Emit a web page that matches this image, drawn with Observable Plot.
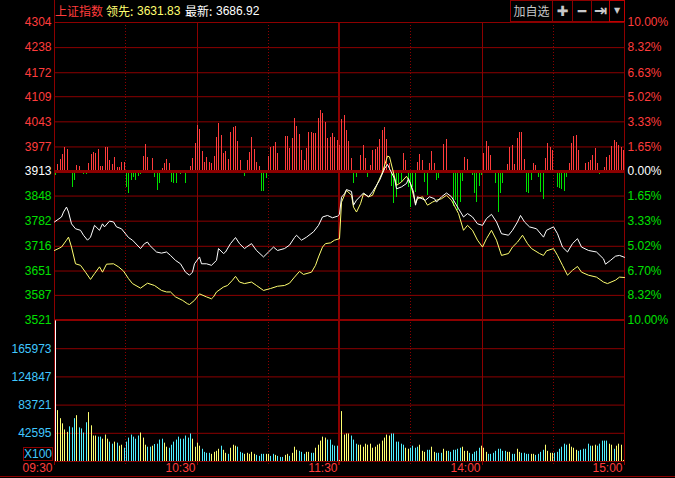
<!DOCTYPE html>
<html>
<head>
<meta charset="utf-8">
<script src="https://cdn.jsdelivr.net/npm/d3@7"></script>
<script src="https://cdn.jsdelivr.net/npm/@observablehq/plot@0.6"></script>
<style>
  html, body { margin: 0; padding: 0; background: #000; }
  #chart { position: relative; width: 675px; height: 478px; background: #000; overflow: hidden;
           font-family: "Liberation Sans", Arial, "Noto Sans CJK SC", sans-serif; font-size: 12px; }
  #chart svg { position: absolute; left: 0; top: 0; max-width: none; }
  .abs { position: absolute; white-space: nowrap; line-height: 14px; }
  .btn { position: absolute; top: 0; height: 22px; border: 1px solid #8c0000; box-sizing: border-box;
         color: #c8c8c8; text-align: center; line-height: 20px; font-family: "DejaVu Sans", "Noto Sans CJK SC", sans-serif; }
</style>
</head>
<body>
<div id="chart"></div>
<script>
// ---------- data ----------
const indexName = "上证指数";
const leadLabel = "领先:";
const leadValue = "3631.83";
const lastLabel = "最新:";
const lastValue = "3686.92";
const prevClose = 3913;

const priceTicks = [4304, 4238, 4172, 4109, 4043, 3977, 3913, 3848, 3782, 3716, 3651, 3587, 3521];
const pctLabels = ["10.00%", "8.32%", "6.63%", "5.02%", "3.33%", "1.65%", "0.00%", "1.65%", "3.33%", "5.02%", "6.70%", "8.32%", "10.00%"];
const volTicks = [42595, 83721, 124847, 165973];
const volUnit = "X100";
const timeTicks = [0, 60, 120, 180, 240];
const timeLabels = ["09:30", "10:30", "11:30", "14:00", "15:00"];
const solidMinutes = [60, 120, 180];
const dottedMinutes = [30, 90, 150, 210];

// latest index (white) : [minute, price]
const latestPts = [[0,3780],[3,3793],[4,3806],[5,3819],[6,3806],[7,3775],[9,3762],[11,3758],[12,3745],[14,3732],[15,3740],[17,3771],[19,3758],[20,3775],[21,3767],[23,3782],[25,3780],[26,3767],[28,3762],[31,3739],[33,3732],[36,3710],[38,3723],[39,3727],[40,3719],[43,3701],[45,3698],[47,3701],[49,3692],[51,3679],[53,3670],[55,3648],[57,3640],[58,3648],[59,3670],[61,3688],[62,3670],[64,3670],[66,3666],[68,3679],[69,3710],[71,3697],[72,3701],[74,3723],[76,3739],[78,3723],[80,3710],[81,3714],[83,3723],[85,3705],[88,3688],[90,3701],[92,3714],[94,3705],[97,3710],[99,3719],[101,3739],[102,3745],[104,3732],[106,3740],[109,3754],[111,3771],[113,3793],[115,3797],[117,3791],[119,3795],[120,3800],[121,3845],[122,3854],[123,3865],[125,3860],[126,3824],[127,3837],[130,3856],[132,3846],[134,3859],[137,3889],[139,3920],[140,3931],[141,3920],[143,3894],[144,3867],[146,3872],[148,3881],[149,3894],[151,3859],[152,3824],[153,3846],[156,3837],[158,3846],[160,3841],[161,3832],[163,3846],[165,3856],[167,3846],[170,3815],[172,3793],[174,3802],[176,3793],[178,3775],[180,3771],[182,3789],[184,3800],[186,3780],[188,3749],[191,3745],[193,3758],[195,3780],[196,3797],[198,3780],[200,3767],[203,3762],[206,3740],[207,3758],[210,3767],[212,3749],[214,3714],[216,3701],[218,3723],[220,3736],[222,3714],[225,3705],[228,3701],[231,3683],[232,3669],[234,3679],[236,3690],[238,3692],[240,3687]];

// leading index (yellow) : [minute, price]
const leadingPts = [[0,3705],[3,3714],[5,3732],[6,3740],[7,3714],[9,3670],[11,3666],[13,3648],[15,3629],[17,3644],[19,3662],[20,3648],[22,3669],[25,3670],[27,3662],[29,3651],[31,3631],[33,3618],[36,3606],[39,3619],[42,3613],[45,3600],[47,3596],[49,3596],[51,3583],[54,3574],[56,3565],[57,3563],[59,3574],[61,3591],[64,3583],[66,3578],[67,3583],[68,3596],[71,3609],[73,3613],[75,3627],[76,3637],[78,3622],[80,3618],[83,3622],[85,3613],[88,3600],[91,3605],[94,3611],[97,3613],[99,3619],[101,3635],[103,3650],[105,3642],[108,3648],[110,3666],[111,3688],[113,3714],[114,3723],[116,3725],[118,3732],[120,3736],[121,3832],[123,3863],[125,3850],[126,3819],[127,3806],[129,3828],[130,3854],[132,3846],[134,3850],[136,3881],[138,3911],[140,3953],[141,3951],[143,3898],[144,3876],[146,3885],[148,3900],[150,3881],[152,3828],[153,3841],[155,3846],[157,3824],[159,3832],[161,3837],[163,3841],[165,3850],[167,3837],[170,3802],[172,3758],[174,3771],[176,3758],[178,3732],[180,3714],[182,3736],[184,3758],[186,3732],[188,3692],[191,3697],[193,3714],[195,3727],[197,3745],[199,3723],[201,3710],[204,3697],[206,3692],[207,3704],[210,3710],[212,3692],[214,3666],[216,3640],[218,3653],[220,3663],[222,3648],[225,3640],[228,3635],[231,3622],[233,3618],[236,3627],[238,3635],[240,3634]];

// buying / selling strength per minute (red up, green down), arbitrary units
const flow = [
  -4,
  7, 12, 17, 24, 22, -2, -16, -9, 6, 5,
  -1, -3, -3, 8, 17, 19, 18, 22, 5, 5,
  24, 24, 11, 7, 14, 4, 4, 9, 9, -16,
  -22, -9, -6, -9, -5, -3, 15, 27, 14, -2,
  13, -6, -19, -12, 3, 8, 12, 8, -11, -12,
  -12, -2, -3, -1, -12, -2, 5, 13, 28, 46,
  42, 20, 9, 14, 9, 8, 15, 34, 48, 36,
  18, 20, 12, 39, 44, 45, 30, 11, 0, -5,
  11, 19, 34, 22, 9, 5, -20, -20, -7, 15,
  24, 25, 29, 18, 0, -2, 35, 35, 23, 33,
  53, 45, 37, 21, 11, 23, 39, 39, 38, 38,
  53, 61, 58, 49, 33, 34, 38, 34, 31, 26,
  52, 56, 41, 30, 13, -12, -6, 0, 16, 26,
  13, -6, 6, 21, 22, 24, 32, 41, 44, 32,
  8, -15, -32, -26, -12, -11, 18, 11, -16, -36,
  -16, -21, 9, 17, 11, -11, -24, 8, 20, 8,
  -9, -7, -1, 27, 32, 0, 0, -35, -29, -39,
  -31, -10, 14, 12, 0, -4, -22, -31, -15, -4,
  18, 30, 25, 16, 0, -12, -41, -22, -12, 0,
  7, 24, 26, 7, 33, 39, 39, 12, -21, -22,
  -9, 8, 6, -6, -21, -28, 13, 28, 24, 21,
  0, -16, -17, -18, -20, -6, 8, 28, 35, 36,
  21, -2, -2, 8, 9, 11, 16, 23, 8, -3,
  -2, 4, 14, 16, 25, 31, 29, 26, 24, 21
];

// volume per minute (x100)
const volume = [
  206500,
  75700, 63900, 56400, 47500, 44000, 52000, 50500, 63900, 68300, 50500,
  49000, 43000, 58000, 72800, 53500, 38600, 38600, 37000, 37000, 34000,
  40000, 34000, 29700, 26700, 29700, 28200, 23800, 25200, 20800, 29700,
  35600, 40000, 37000, 34000, 38600, 43000, 35600, 25200, 22300, 22300,
  23800, 26200, 26700, 32700, 34000, 28200, 22300, 20800, 25200, 29700,
  32700, 37000, 34000, 34000, 38600, 35600, 41600, 34000, 22300, 28200,
  23800, 19300, 14800, 13400, 13400, 11900, 14800, 16300, 19300, 23800,
  17800, 13400, 11900, 20800, 25200, 23800, 22300, 14800, 13400, 11900,
  13400, 11900, 14800, 11900, 10400, 8900, 11900, 11900, 11900, 11900,
  8900, 11900, 10400, 8900, 7400, 7400, 10400, 11900, 8900, 13400,
  22300, 17800, 16300, 14800, 11900, 14800, 14800, 13400, 13400, 20800,
  25200, 31200, 37000, 35600, 32700, 32700, 25200, 23800, 23800, 3000,
  74250, 40000, 41600, 41600, 38600, 32700, 26700, 25200, 25200, 22300,
  26700, 25200, 26700, 20800, 22300, 25200, 26700, 31200, 35600, 40000,
  38600, 41600, 41600, 29700, 29700, 26700, 25200, 20800, 19300, 20800,
  23800, 20800, 22300, 25200, 16300, 14800, 17800, 17800, 22300, 14800,
  13400, 13400, 13400, 19300, 16300, 16300, 14800, 17800, 17800, 19300,
  20800, 22300, 16300, 16300, 13400, 11900, 14800, 16300, 20800, 23800,
  20800, 14800, 11900, 11900, 13400, 16300, 19300, 19300, 16300, 16300,
  14800, 14800, 11900, 11900, 19300, 14800, 13400, 13400, 11900, 11900,
  11900, 11900, 10400, 11900, 14800, 17800, 25200, 16300, 13400, 13400,
  13400, 14800, 19300, 22300, 26700, 25200, 26700, 22300, 20800, 17800,
  16300, 17800, 19300, 19300, 26700, 23800, 23800, 25200, 23800, 26700,
  31200, 31200, 31200, 26700, 25200, 19300, 23800, 26700, 25200, 3000
];

// bar direction per minute: w = auction, y = up, c = down
const volDir = ("w" +
  "yyyyycccyc" + "cccyyyyccy" + "yyccycyycc" + "cccccyyycc" + "yccccyyccc" + "cccccccyyy" +
  "yccccyyyyc" + "yycyyycccy" + "yyyyccccyy" + "ccycccyycy" + "yycccyyccy" + "yyyycccccy" +
  "yyyycccyyy" + "yyyyyyyyyy" + "yccccccyyc" + "cccyyyccyy" + "cccyyccccc" + "cyyycccccy" +
  "yycccccccc" + "yyccyycccc" + "yyccccyyyy" + "ccccccyyyy" + "ccccccyycc" + "cccyycyyyy").split("");

// ---------- styles ----------
const GRID = "#8c0000";
const RED = "#ff3c3c";
const GREEN = "#00e000";
const WHITE = "#ffffff";
const YELLOW = "#ffff70";
const CYAN_LABEL = "#40c8ff";
const volColor = {w: "#ffffff", y: "#ffff70", c: "#50f0ff"};
const labelColor = v => v > prevClose ? RED : v === prevClose ? WHITE : GREEN;

const W = 675, H = 478;
const common = {
  width: W, height: H, marginLeft: 54, marginRight: 51,
  style: {background: "transparent", overflow: "visible", fontFamily: "Liberation Sans, Arial, sans-serif"},
  x: {domain: [0, 240], round: true, axis: null},
  color: {type: "identity"}
};
// bars sit one pixel inside the session borders
const barsFrame = {marginLeft: 55, marginRight: 52};
const priceY = {domain: [priceTicks[priceTicks.length - 1], priceTicks[0]], axis: null};

const chart = document.getElementById("chart");

// frame: verticals and time labels
const frame = Plot.plot({
  ...common, marginTop: 0, marginBottom: 13,
  marks: [
    Plot.ruleX([0, 240], {stroke: GRID}),
    Plot.ruleX(solidMinutes.filter(d => d !== 120), {stroke: GRID, insetTop: 22}),
    Plot.ruleX([120], {stroke: GRID, insetTop: 22, strokeWidth: 2, dx: -0.5}),
    Plot.ruleX(dottedMinutes, {stroke: GRID, insetTop: 22, strokeDasharray: "1,2"}),
    Plot.text(timeTicks, {x: d => d, frameAnchor: "bottom", text: (d, i) => timeLabels[i],
      textAnchor: "end", dx: -2, dy: 6, fill: RED, fontSize: 12})
  ]
});

// price panel grid and labels
const grid = Plot.plot({
  ...common, marginTop: 22, marginBottom: 158, y: priceY,
  marks: [
    Plot.ruleY(priceTicks.slice(0, -1).filter(t => t !== prevClose), {stroke: GRID}),
    Plot.ruleY(priceTicks.slice(-1), {stroke: GRID, strokeWidth: 2, dy: -0.5}),
    Plot.text(priceTicks, {x: () => 0, y: d => d, text: d => String(d), textAnchor: "end", dx: -3,
      fill: labelColor, fontSize: 12}),
    Plot.text(priceTicks, {x: () => 240, y: d => d, text: (d, i) => pctLabels[i], textAnchor: "start", dx: 3,
      fill: labelColor, fontSize: 12})
  ]
});

// strength bars
const flowMax = 149;
const flowPlot = Plot.plot({
  ...common, ...barsFrame, marginTop: 22, marginBottom: 158,
  y: {domain: [-flowMax, flowMax], axis: null},
  marks: [
    Plot.ruleX(flow.map((v, i) => ({i, v})).filter(d => d.v !== 0),
      {x: "i", y1: 0, y2: "v", stroke: d => d.v > 0 ? RED : GREEN}),
    Plot.ruleY([0], {stroke: GRID, strokeWidth: 3, insetLeft: -1, insetRight: -1})
  ]
});

// price lines
const linePlot = Plot.plot({
  ...common, marginTop: 22, marginBottom: 158, y: priceY,
  marks: [
    Plot.line(leadingPts, {x: d => d[0], y: d => d[1], stroke: YELLOW, strokeWidth: 1}),
    Plot.line(latestPts, {x: d => d[0], y: d => d[1], stroke: WHITE, strokeWidth: 1})
  ]
});

// volume panel
const volStep = volTicks[1] - volTicks[0];
const volMin = volTicks[0] - volStep;
const volMax = volTicks[volTicks.length - 1] + volStep;
const volPlot = Plot.plot({
  ...common, ...barsFrame, marginTop: 320, marginBottom: 17,
  y: {domain: [volMin, volMax], axis: null, clamp: true},
  marks: [
    Plot.ruleY(volTicks, {stroke: GRID, insetLeft: -1, insetRight: -1}),
    Plot.ruleY([volMin], {stroke: GRID, insetLeft: -1, insetRight: -1}),
    Plot.ruleX(volume.map((v, i) => ({i, v, c: volColor[volDir[i]]})),
      {x: "i", y1: volMin, y2: "v", stroke: "c"}),
    Plot.text(volTicks, {x: () => 0, y: d => d, text: d => String(d), textAnchor: "end", dx: -4,
      fill: CYAN_LABEL, fontSize: 12})
  ]
});

[frame, grid, flowPlot, linePlot, volPlot].forEach(p => chart.appendChild(p));

// header texts
function addText(txt, left, top, color, extra) {
  const d = document.createElement("div");
  d.className = "abs";
  d.textContent = txt;
  d.style.left = left + "px";
  d.style.top = top + "px";
  d.style.color = color;
  if (extra) Object.assign(d.style, extra);
  chart.appendChild(d);
  return d;
}
addText(indexName, 55, 4, RED, {fontFamily: "Noto Sans CJK SC, sans-serif"});
addText(leadLabel, 106, 4, YELLOW, {fontFamily: "Noto Sans CJK SC, sans-serif"});
addText(leadValue, 137, 4, YELLOW);
addText(lastLabel, 185, 4, WHITE, {fontFamily: "Noto Sans CJK SC, sans-serif"});
addText(lastValue, 216, 4, WHITE);

// unit box
addText(volUnit, 23, 447, CYAN_LABEL, {
  width: "30px", height: "14px", border: "1px solid " + GRID, boxSizing: "border-box",
  textAlign: "center", lineHeight: "12px"
});

// bottom rule
const bottom = document.createElement("div");
Object.assign(bottom.style, {position: "absolute", left: "0px", top: "476px", width: W + "px", height: "1px", background: GRID});
chart.appendChild(bottom);

// toolbar buttons
const buttons = [
  {t: "加自选", l: 510, w: 43, fs: 12, ff: "Noto Sans CJK SC, sans-serif"},
  {t: "✚", l: 552, w: 21, fs: 14},
  {t: "━", l: 572, w: 20, fs: 14},
  {t: "⇥", l: 591, w: 19, fs: 16},
  {t: "▼", l: 609, w: 16, fs: 8, b: "#c00000"}
];
buttons.forEach(b => {
  const d = document.createElement("div");
  d.className = "btn";
  d.textContent = b.t;
  d.style.left = b.l + "px";
  d.style.width = b.w + "px";
  d.style.fontSize = b.fs + "px";
  d.style.fontWeight = "bold";
  if (b.ff) { d.style.fontFamily = b.ff; d.style.fontWeight = "normal"; }
  if (b.b) d.style.borderColor = b.b;
  chart.appendChild(d);
});
</script>
</body>
</html>
